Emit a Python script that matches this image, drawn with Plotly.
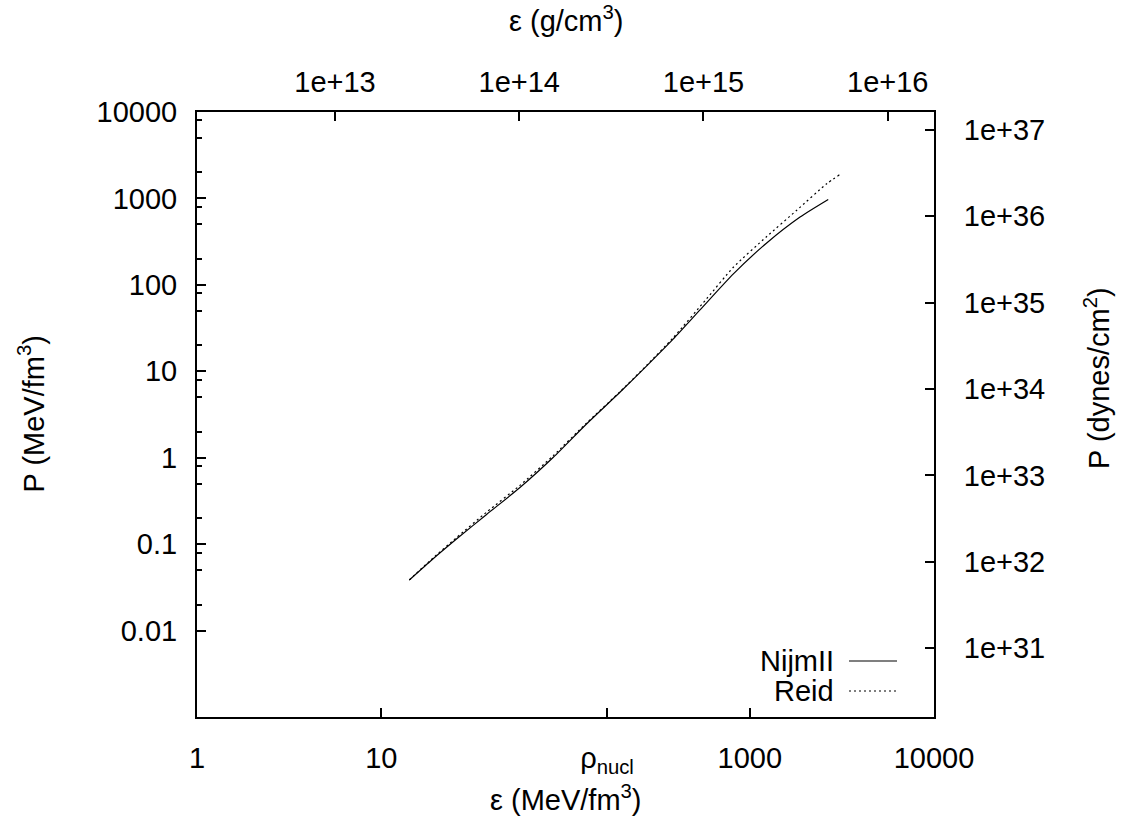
import numpy as np
import plotly.graph_objects as go

# ---- data ----
eps_nijm = [14.2, 18.4, 25.6, 37.3, 56.6, 85.9, 130, 198, 276, 385, 537, 815, 1236, 1875, 2667]
p_nijm = [0.0385, 0.0631, 0.1146, 0.2208, 0.452, 1.012, 2.455, 5.754, 11.56, 23.71, 51.29, 134.0, 305.5, 609.5, 972.8]

eps_reid = [14.2, 18.4, 25.6, 37.3, 56.6, 85.9, 130, 198, 276, 385, 584, 815, 1236, 1799, 2618, 3090]
p_reid = [0.0385, 0.0643, 0.1189, 0.2344, 0.4786, 1.059, 2.512, 5.821, 11.75, 24.55, 69.2, 160.0, 362.0, 730.0, 1480.0, 1897.0]

x_tickvals = [1, 10, 168, 1000, 10000]
x_ticktext = ["1", "10", "ρ<sub>nucl</sub>", "1000", "10000"]
y_tickvals = [0.01, 0.1, 1, 10, 100, 1000, 10000]
y_ticktext = ["0.01", "0.1", "1", "10", "100", "1000", "10000"]
y_minor = [m * 10.0 ** k for k in range(-2, 4) for m in (2, 5, 8)]
x2_tickvals = [1e13, 1e14, 1e15, 1e16]
x2_ticktext = ["1e+13", "1e+14", "1e+15", "1e+16"]
y2_tickvals = [1e31, 1e32, 1e33, 1e34, 1e35, 1e36, 1e37]
y2_ticktext = ["1e+31", "1e+32", "1e+33", "1e+34", "1e+35", "1e+36", "1e+37"]

MEV_FM3_TO_G_CM3 = 1.7827e12
MEV_FM3_TO_DYN_CM2 = 1.6022e33

x_range = [0, 4]
y_range = [-3, 4]
x2_range = [r + np.log10(MEV_FM3_TO_G_CM3) for r in x_range]
y2_range = [r + np.log10(MEV_FM3_TO_DYN_CM2) for r in y_range]

FONT = "Liberation Sans, Arial, Helvetica, sans-serif"
FS = 29

fig = go.Figure()
fig.add_trace(go.Scatter(x=eps_nijm, y=p_nijm, mode="lines", name="NijmII",
                         line=dict(color="black", width=1.2, shape="spline", smoothing=0.6),
                         showlegend=False))
fig.add_trace(go.Scatter(x=eps_reid, y=p_reid, mode="lines", name="Reid",
                         line=dict(color="black", width=1.2, dash="2px,3px", shape="spline", smoothing=0.6),
                         showlegend=False))
# invisible trace to activate the secondary axes
fig.add_trace(go.Scatter(x=[None], y=[None], xaxis="x2", yaxis="y2", mode="lines",
                         showlegend=False, hoverinfo="skip"))

common = dict(showgrid=False, zeroline=False, showline=True, linecolor="black", linewidth=2,
              ticks="inside", ticklen=9, tickwidth=1.5, tickcolor="black",
              tickfont=dict(family=FONT, size=FS, color="black"))

fig.update_layout(
    width=1124, height=816,
    paper_bgcolor="white", plot_bgcolor="white",
    margin=dict(l=197, r=190, t=112, b=99),
    font=dict(family=FONT, size=FS, color="black"),
    showlegend=False,
    xaxis=dict(type="log", range=x_range, tickmode="array", tickvals=x_tickvals,
               ticktext=x_ticktext, side="bottom", ticklabelstandoff=14, **common),
    yaxis=dict(type="log", range=y_range, tickmode="array", tickvals=y_tickvals,
               ticktext=y_ticktext, side="left", ticklabelstandoff=12,
               minor=dict(tickmode="array", tickvals=y_minor, ticks="inside", ticklen=5,
                          tickwidth=1.5, tickcolor="black", showgrid=False),
               **common),
    xaxis2=dict(type="log", range=x2_range, tickmode="array", tickvals=x2_tickvals,
                ticktext=x2_ticktext, side="top", overlaying="x", anchor="y",
                ticklabelstandoff=6, **common),
    yaxis2=dict(type="log", range=y2_range, tickmode="array", tickvals=y2_tickvals,
                ticktext=y2_ticktext, side="right", overlaying="y", anchor="x",
                ticklabelstandoff=22, **common),
)

# axis titles
ann_font = dict(family=FONT, size=FS, color="black")
fig.add_annotation(text="ε (MeV/fm<sup>3</sup>)", xref="paper", yref="paper",
                   x=0.5, y=(717 - 798) / 605, xanchor="center", yanchor="middle",
                   showarrow=False, font=ann_font)
fig.add_annotation(text="ε (g/cm<sup>3</sup>)", xref="paper", yref="paper",
                   x=0.5, y=(717 - 19) / 605, xanchor="center", yanchor="middle",
                   showarrow=False, font=ann_font)
fig.add_annotation(text="P (MeV/fm<sup>3</sup>)", xref="paper", yref="paper",
                   x=(31 - 197) / 737, y=0.5, xanchor="center", yanchor="middle",
                   textangle=-90, showarrow=False, font=ann_font)
fig.add_annotation(text="P (dynes/cm<sup>2</sup>)", xref="paper", yref="paper",
                   x=(1097 - 197) / 737, y=(717 - 378) / 605, xanchor="center", yanchor="middle",
                   textangle=-90, showarrow=False, font=ann_font)

# legend (gnuplot style: text on the left, sample on the right)
leg_items = [("NijmII", "solid", (717 - 661) / 605), ("Reid", "2px,3px", (717 - 691) / 605)]
for name, dash, yy in leg_items:
    fig.add_annotation(text=name, xref="paper", yref="paper", x=(836 - 197) / 737, y=yy,
                       xanchor="right", yanchor="middle", showarrow=False, font=ann_font)
    fig.add_shape(type="line", xref="paper", yref="paper",
                  x0=(849 - 197) / 737, x1=(897 - 197) / 737, y0=yy, y1=yy,
                  line=dict(color="black", width=1.2, dash=dash))

fig.write_html("out.html", config={"displayModeBar": False},
               post_script="document.body.style.margin='0';document.body.style.overflow='hidden';")
